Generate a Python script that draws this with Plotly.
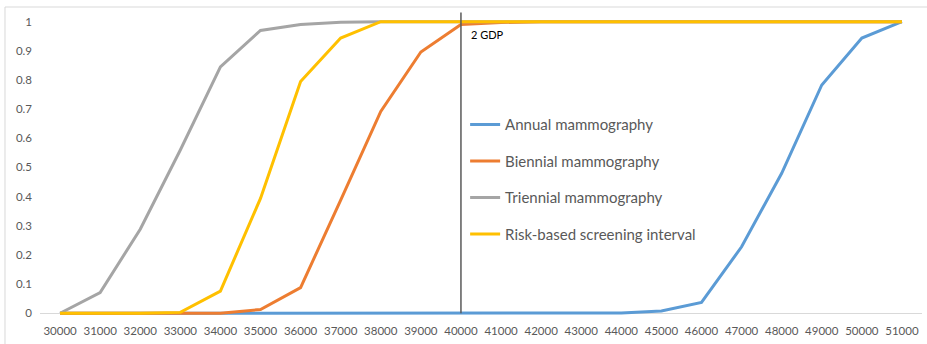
import plotly.graph_objects as go

# Willingness-to-pay thresholds (category axis)
wtp = [str(v) for v in range(30000, 52000, 1000)]

# Probability of being cost-effective at each threshold
annual = [0, 0, 0, 0, 0, 0, 0, 0, 0, 0, 0, 0, 0, 0, 0.001, 0.008, 0.037, 0.228, 0.48, 0.783, 0.944, 1.0]
biennial = [0, 0, 0, 0, 0, 0.013, 0.088, 0.388, 0.692, 0.896, 0.99, 0.997, 1.0, 1.0, 1.0, 1.0, 1.0, 1.0, 1.0, 1.0, 1.0, 1.0]
triennial = [0, 0.071, 0.288, 0.56, 0.845, 0.97, 0.99, 0.998, 1.0, 1.0, 1.0, 1.0, 1.0, 1.0, 1.0, 1.0, 1.0, 1.0, 1.0, 1.0, 1.0, 1.0]
risk_based = [0, 0, 0, 0.003, 0.076, 0.394, 0.795, 0.944, 1.0, 1.0, 1.0, 1.0, 1.0, 1.0, 1.0, 1.0, 1.0, 1.0, 1.0, 1.0, 1.0, 1.0]

series_names = ["Annual mammography", "Biennial mammography",
                "Triennial mammography", "Risk-based screening interval"]
series_values = [annual, biennial, triennial, risk_based]
series_colors = ["#5B9BD5", "#ED7D31", "#A5A5A5", "#FFC000"]

gdp_threshold = "40000"
gdp_label = "2 GDP"

FONT = "Lato"
TEXT_GRAY = "#595959"

fig = go.Figure()
for i, (name, vals, col) in enumerate(zip(series_names, series_values, series_colors)):
    fig.add_trace(go.Scatter(
        x=wtp, y=vals, name=name, mode="lines",
        line=dict(color=col, width=3),
        legendgroup=f"g{i}",
    ))

# Reference line at 2 x GDP per capita (category index on the x axis)
gdp_idx = wtp.index(gdp_threshold)
fig.add_shape(type="line", xref="x", yref="y",
              x0=gdp_idx, x1=gdp_idx, y0=0, y1=1.031,
              line=dict(color="#595959", width=1.5), layer="above")
fig.add_annotation(x=gdp_idx, y=0.955, xref="x", yref="y",
                   text=gdp_label, showarrow=False, xanchor="left", yanchor="middle",
                   xshift=8, font=dict(family=FONT, size=11, color="#000000"))

# Outer chart border
fig.add_shape(type="rect", xref="paper", yref="paper",
              x0=-0.0397, x1=1.02, y0=-0.2, y1=1.0096,
              line=dict(color="#D9D9D9", width=1), fillcolor="rgba(0,0,0,0)")

fig.update_layout(
    width=927, height=344,
    margin=dict(l=40, r=5, t=10, b=22),
    paper_bgcolor="white", plot_bgcolor="white",
    font=dict(family=FONT, color=TEXT_GRAY),
    legend=dict(x=0.482, y=0.685, xanchor="left", yanchor="top",
                font=dict(family=FONT, size=15, color=TEXT_GRAY),
                tracegroupgap=14, bgcolor="rgba(0,0,0,0)"),
    xaxis=dict(type="category", range=[-0.5, 21.5], showgrid=False,
               showline=False, zeroline=False, ticks="",
               tickfont=dict(family=FONT, size=11.5, color=TEXT_GRAY)),
    yaxis=dict(range=[-0.03, 1.04], tickvals=[0, 0.1, 0.2, 0.3, 0.4, 0.5, 0.6, 0.7, 0.8, 0.9, 1],
               ticktext=["0", "0.1", "0.2", "0.3", "0.4", "0.5", "0.6", "0.7", "0.8", "0.9", "1"],
               showgrid=False, showline=False, zeroline=True, zerolinecolor="#D9D9D9",
               zerolinewidth=1, ticks="", ticklabelstandoff=7,
               tickfont=dict(family=FONT, size=11.5, color=TEXT_GRAY)),
)

fig.write_html("out.html")
